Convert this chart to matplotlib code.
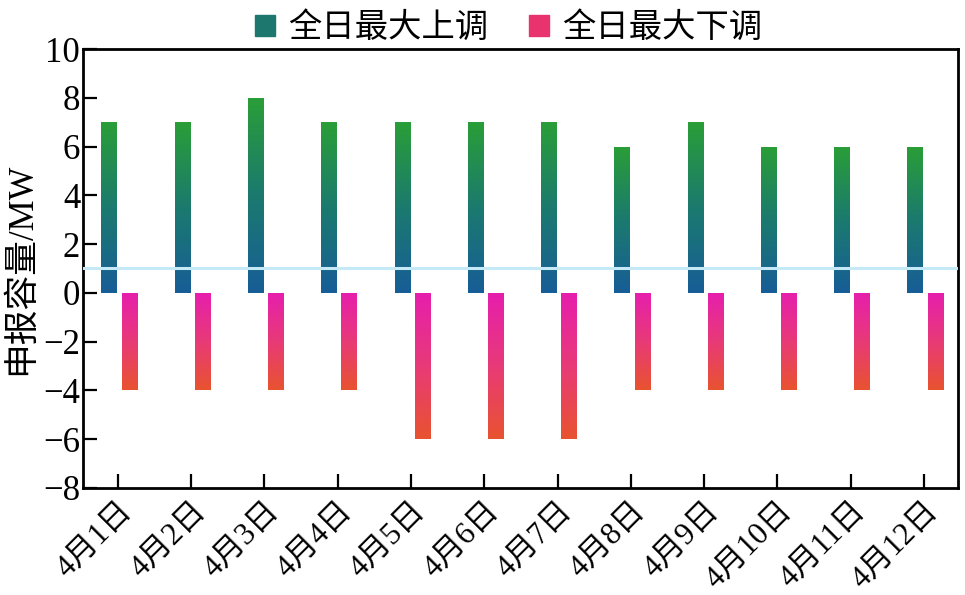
import matplotlib
matplotlib.use("Agg")
import matplotlib.pyplot as plt
import numpy as np
from matplotlib.colors import LinearSegmentedColormap
from matplotlib.patches import Patch

categories = ["4月1日", "4月2日", "4月3日", "4月4日", "4月5日", "4月6日",
              "4月7日", "4月8日", "4月9日", "4月10日", "4月11日", "4月12日"]
up_values = [7, 7, 8, 7, 7, 7, 7, 6, 7, 6, 6, 6]
down_values = [-4, -4, -4, -4, -6, -6, -6, -4, -4, -4, -4, -4]
series_names = ["全日最大上调", "全日最大下调"]
ref_line = 1

FAM = ["Liberation Serif", "Noto Sans CJK SC"]
plt.rcParams["font.family"] = FAM
plt.rcParams["axes.unicode_minus"] = True

fig = plt.figure(figsize=(9.65, 5.95), dpi=100)
ax = fig.add_axes([0.086, 0.18, 0.9067, 0.7376])

x = np.arange(len(categories))
w = 0.21
up_cmap = LinearSegmentedColormap.from_list("up", ["#175d97", "#1b7a6e", "#2a9e37"])
dn_cmap = LinearSegmentedColormap.from_list("dn", ["#e8532f", "#e83a78", "#e61eae"])

bars_up = ax.bar(x - 0.12, up_values, w, color="none", edgecolor="none", zorder=2)
bars_dn = ax.bar(x + 0.155, down_values, w, color="none", edgecolor="none", zorder=2)

grad = np.linspace(0, 1, 256).reshape(-1, 1)

def fill_gradient(bars, cmap, data):
    for b in bars:
        x0, y0 = b.get_x(), b.get_y()
        bw, bh = b.get_width(), b.get_height()
        ylo, yhi = min(y0, y0 + bh), max(y0, y0 + bh)
        im = ax.imshow(data, cmap=cmap, aspect="auto", vmin=0, vmax=1,
                       extent=[x0, x0 + bw, ylo, yhi], origin="lower", zorder=2,
                       interpolation="bilinear")
        im.set_clip_path(b)

fill_gradient(bars_up, up_cmap, grad)
fill_gradient(bars_dn, dn_cmap, grad)

ax.axhline(ref_line, color="#c6e9f7", lw=2.2, zorder=3)

ax.set_xlim(-0.477, 11.464)
ax.set_ylim(-8, 10)
ax.set_yticks(np.arange(-8, 11, 2))
ax.set_xticks(x)
ax.set_xticklabels(categories, rotation=45, ha="right", va="top",
                   rotation_mode="anchor", fontsize=22.5)
ax.tick_params(axis="y", direction="in", length=10, width=1.6, labelsize=25, pad=2)
ax.tick_params(axis="x", direction="in", length=10, width=1.6, pad=6)
for s in ax.spines.values():
    s.set_linewidth(2)
ax.set_ylabel("申报容量/MW", fontsize=25, labelpad=4)

handles = [Patch(color="#1e776e"), Patch(color="#e8336f")]
fig.legend(handles, series_names, loc="upper center", bbox_to_anchor=(0.527, 1.03),
           ncol=2, frameon=False, fontsize=24, handlelength=0.6, handleheight=0.6,
           handletextpad=0.4, columnspacing=1.2)

fig.savefig("out.png", dpi=100)
